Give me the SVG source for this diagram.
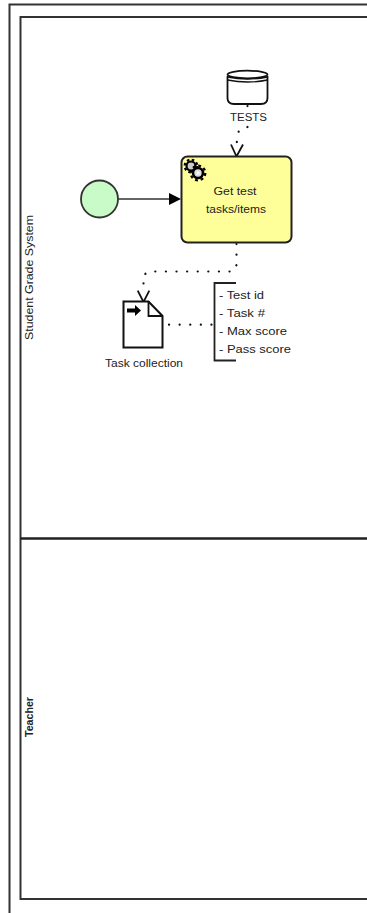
<svg xmlns="http://www.w3.org/2000/svg" width="367" height="913" viewBox="0 0 367 913">
<style>
.ln{fill:none;stroke:#333;stroke-width:2}
.dot{fill:none;stroke:#111;stroke-width:2.200;stroke-linecap:round;stroke-dasharray:0.1 10.500}
.t{font-family:"Liberation Sans",Arial,sans-serif;font-size:10px;fill:#222}
.hd{fill:none;stroke:#111;stroke-width:1.800}
</style>
<rect width="367" height="913" fill="#fff"/>
<g id="pool">
<path class="ln" d="M9.500 913V4.500H367"/>
<path class="ln" d="M367 17H20.500V899H367"/>
</g>
<g id="lane-student"><text class="t" transform="translate(33 340) rotate(-90)" textLength="125" lengthAdjust="spacingAndGlyphs">Student Grade System</text></g>
<g id="lane-teacher"><path d="M20.500 538.500H367" stroke="#222" stroke-width="2.400" fill="none"/><text class="t" transform="translate(33 737) rotate(-90)" font-weight="bold" textLength="40" lengthAdjust="spacingAndGlyphs">Teacher</text></g>
<g id="connectors">
<path d="M118 199H170" fill="none" stroke="#333" stroke-width="1.300"/>
<path d="M169 193V205L181 199Z" fill="#000"/>
<path class="dot" d="M247.500 106V106.100M247.500 127L239 130L237 139L236.500 148"/>
<path class="hd" d="M231 144.500L236.500 156.500L243 144.500"/>
<path class="dot" d="M236.500 244V265L233 271.500H149L143.500 275V292"/>
<path class="hd" d="M137.700 290.700L143.500 302L149.300 290.700"/>
<path class="dot" d="M169 324.700H214"/>
</g>
<g id="start"><circle cx="99.500" cy="199" r="18.500" fill="#c8fbc8" stroke="#333" stroke-width="1.800"/></g>
<g id="task">
<rect x="181.500" y="156.500" width="110" height="86" rx="6" fill="#ffff99" stroke="#222" stroke-width="2"/>
<circle cx="191" cy="166" r="6.300" fill="none" stroke="#000" stroke-width="2.200" stroke-dasharray="2.500 2.450"/>
<circle cx="191" cy="166" r="4.500" fill="#ccc" stroke="#000" stroke-width="2.200"/>
<circle cx="198" cy="173" r="7.300" fill="none" stroke="#000" stroke-width="2.200" stroke-dasharray="2.900 2.830"/>
<circle cx="198" cy="173" r="5" fill="#ddd" stroke="#000" stroke-width="2.600"/>
<circle cx="198" cy="173" r="1.600" fill="#fff"/>
<text class="t" x="235" y="195" text-anchor="middle" textLength="43" lengthAdjust="spacingAndGlyphs">Get test</text>
<text class="t" x="236" y="213" text-anchor="middle" textLength="60" lengthAdjust="spacingAndGlyphs">tasks/items</text>
</g>
<g id="datastore">
<path d="M227.500 76V98Q227.500 104 234 104H261Q267.500 104 267.500 98V76" fill="#fff" stroke="#111" stroke-width="1.800"/>
<ellipse cx="247.500" cy="74.500" rx="20" ry="3.800" fill="#fff" stroke="#111" stroke-width="1.800"/>
<path d="M227.500 77Q247.500 81 267.500 77M227.500 80Q247.500 84 267.500 80" fill="none" stroke="#111" stroke-width="1.300"/>
<text class="t" x="248.500" y="121" text-anchor="middle" textLength="37" lengthAdjust="spacingAndGlyphs">TESTS</text>
</g>
<g id="dataobject">
<path d="M123.500 301.500H148.500L162.500 316V347.500H123.500Z" fill="#fff" stroke="#111" stroke-width="2"/>
<path d="M148.500 301.500V316H162.500" fill="none" stroke="#111" stroke-width="1.800"/>
<path d="M127 308.500H135V305L141 310.500L135 316V312.500H127Z" fill="#000"/>
<text class="t" x="144" y="367" text-anchor="middle" textLength="78" lengthAdjust="spacingAndGlyphs">Task collection</text>
</g>
<g id="annotation">
<path d="M236 283H214.500V360.500H236" fill="none" stroke="#222" stroke-width="1.800"/>
<text class="t" x="219" y="299" textLength="45" lengthAdjust="spacingAndGlyphs">- Test id</text>
<text class="t" x="219" y="317" textLength="46" lengthAdjust="spacingAndGlyphs">- Task #</text>
<text class="t" x="219" y="335" textLength="68" lengthAdjust="spacingAndGlyphs">- Max score</text>
<text class="t" x="219" y="353" textLength="72" lengthAdjust="spacingAndGlyphs">- Pass score</text>
</g>
</svg>
